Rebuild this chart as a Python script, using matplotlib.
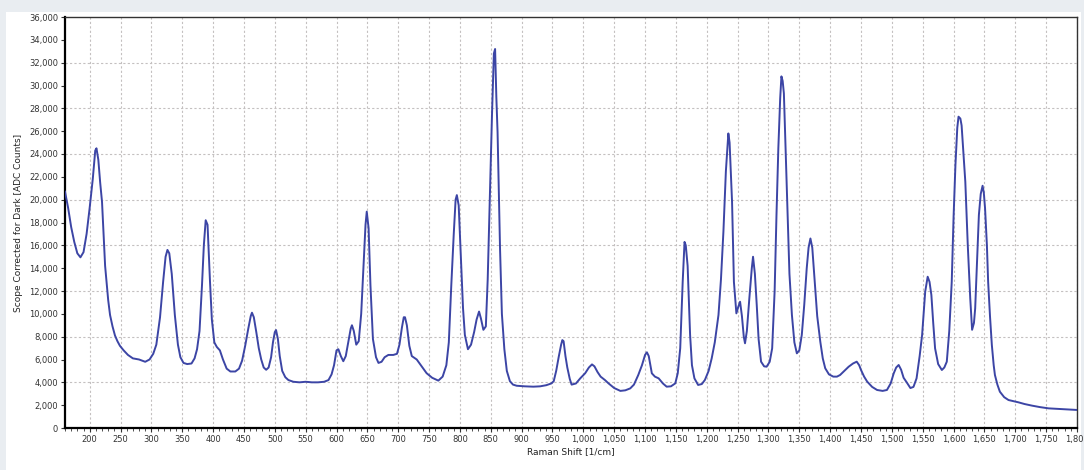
import matplotlib
matplotlib.use('Agg')
import matplotlib.pyplot as plt
from matplotlib.patches import Rectangle
from matplotlib.ticker import MultipleLocator, FuncFormatter

# spectrum
raman_shift = [
    160, 165, 170, 175, 180, 185, 190, 195, 200, 205, 209, 211, 214, 217, 220, 225, 230, 233, 237, 241,
    245, 249, 255, 262, 270, 280, 290, 297, 303, 308, 314, 319, 323, 326, 329, 333, 338, 343, 347, 352,
    358, 365, 370, 374, 378, 382, 385, 388, 391, 395, 398, 402, 406, 411, 416, 422, 428, 436, 442, 447,
    452, 457, 461, 463, 466, 470, 474, 478, 482, 486, 490, 494, 497, 500, 502, 505, 508, 512, 517, 522,
    530, 540, 550, 560, 570, 580, 587, 592, 596, 600, 603, 607, 611, 615, 619, 623, 625, 628, 632, 636,
    640, 644, 647, 649, 652, 655, 659, 664, 668, 673, 678, 684, 692, 698, 702, 706, 709, 711, 714, 718,
    722, 730, 738, 746, 755, 765, 772, 778, 782, 786, 790, 793, 795, 798, 801, 805, 808, 813, 818, 823,
    827, 831, 834, 838, 842, 845, 849, 852, 855, 857, 859, 861, 865, 868, 872, 876, 881, 886, 892, 905,
    919, 930, 940, 948, 952, 956, 960, 964, 966, 968, 971, 974, 978, 981, 988, 995, 1003, 1009, 1014, 1018,
    1023, 1028, 1035, 1041, 1050, 1060, 1068, 1076, 1082, 1089, 1095, 1100, 1103, 1106, 1111, 1116, 1122, 1129, 1135, 1142,
    1149, 1153, 1157, 1161, 1164, 1166, 1169, 1173, 1176, 1180, 1186, 1192, 1197, 1203, 1208, 1213, 1219, 1223, 1227, 1231,
    1235, 1237, 1241, 1244, 1248, 1251, 1254, 1257, 1260, 1262, 1265, 1269, 1273, 1275, 1278, 1281, 1284, 1288, 1293, 1297,
    1302, 1306, 1310, 1313, 1316, 1319, 1321, 1323, 1325, 1328, 1331, 1334, 1338, 1342, 1346, 1350, 1354, 1358, 1362, 1365,
    1368, 1371, 1375, 1379, 1384, 1388, 1392, 1398, 1405, 1411, 1416, 1423, 1430, 1437, 1443, 1447, 1450, 1455, 1460, 1468,
    1476, 1485, 1492, 1498, 1503, 1507, 1511, 1515, 1519, 1524, 1530, 1535, 1540, 1545, 1549, 1554, 1558, 1561, 1564, 1567,
    1570, 1575, 1581, 1585, 1589, 1593, 1597, 1600, 1603, 1606, 1608, 1611, 1613, 1616, 1619, 1623, 1627, 1630, 1633, 1635,
    1638, 1641, 1644, 1647, 1649, 1651, 1654, 1656, 1659, 1662, 1665, 1667, 1671, 1675, 1682, 1689, 1697, 1705, 1715, 1727,
    1740, 1754, 1767, 1781, 1790, 1800,
]
counts = [
    20700, 19300, 17600, 16300, 15300, 14950, 15400, 17000, 19300, 21800, 24300, 24500, 23500, 21500, 19800, 14200, 11200, 9900, 8900, 8100,
    7600, 7200, 6800, 6400, 6100, 6000, 5800, 6000, 6500, 7300, 9700, 12800, 15000, 15600, 15300, 13500, 9900, 7300, 6200, 5700,
    5600, 5650, 6100, 6900, 8500, 12500, 16000, 18200, 17800, 12800, 9500, 7500, 7100, 6800, 6000, 5200, 4950, 4950, 5200, 5900,
    7200, 8700, 9800, 10100, 9700, 8400, 7000, 6000, 5300, 5100, 5300, 6200, 7500, 8400, 8580, 7800, 6300, 5000, 4450, 4200,
    4050, 4000, 4050, 4000, 4000, 4050, 4200, 4700, 5500, 6800, 6900, 6300, 5850, 6300, 7500, 8700, 9000, 8500, 7300, 7600,
    10000, 14500, 17800, 18950, 17500, 12500, 7800, 6200, 5700, 5800, 6200, 6400, 6400, 6500, 7300, 8800, 9700, 9700, 9000, 7200,
    6300, 6000, 5400, 4800, 4400, 4150, 4500, 5500, 7500, 12500, 17000, 20000, 20400, 19500, 15700, 10500, 8150, 6900, 7300, 8400,
    9500, 10200, 9600, 8600, 8900, 13000, 21500, 27500, 32800, 33200, 29000, 25900, 15700, 10000, 6900, 5000, 4100, 3800, 3700, 3650,
    3620, 3650, 3750, 3900, 4100, 5000, 6200, 7300, 7700, 7600, 6300, 5300, 4300, 3800, 3900, 4350, 4800, 5300, 5570, 5400,
    4900, 4500, 4200, 3900, 3500, 3250, 3300, 3470, 3800, 4640, 5500, 6400, 6630, 6300, 4790, 4500, 4350, 3900, 3620, 3650,
    3910, 4800, 6980, 12800, 16300, 16000, 14200, 8150, 5500, 4350, 3770, 3850, 4210, 5000, 6100, 7500, 9900, 13000, 17200, 22500,
    25800, 25000, 19800, 12800, 10040, 10600, 11060, 9800, 8000, 7420, 8500, 11350, 14000, 15000, 13500, 10770, 7800, 5810, 5400, 5370,
    5800, 6980, 12000, 18660, 24500, 28880, 30800, 30400, 29300, 24000, 18660, 13500, 9900, 7500, 6540, 6800, 8150, 10800, 13990, 15800,
    16600, 15800, 12800, 9800, 7560, 6100, 5230, 4700, 4500, 4500, 4640, 5000, 5370, 5650, 5810, 5500, 5080, 4500, 4060, 3600,
    3330, 3250, 3330, 3900, 4790, 5300, 5520, 5100, 4400, 4000, 3500, 3600, 4350, 6300, 8150, 11940, 13250, 12800, 11650, 9200,
    6980, 5600, 5080, 5300, 5810, 8500, 12800, 18500, 23040, 26300, 27270, 27100, 26500, 24000, 21570, 16000, 11350, 8600, 9200, 10480,
    14500, 18660, 20500, 21220, 20600, 19240, 16000, 12800, 9800, 7270, 5500, 4640, 3800, 3180, 2700, 2450, 2350, 2250, 2100, 1960,
    1830, 1720, 1680, 1640, 1610, 1580,
]

x_ticks = list(range(200, 1801, 50))
y_ticks = list(range(0, 36001, 2000))
grid_y = list(range(4000, 36000, 4000))

fig = plt.figure(figsize=(10.84, 4.70), dpi=100, facecolor='#e9edf1')
# white panel behind the chart
fig.patches.append(Rectangle((6 / 1084, 0), 1075 / 1084, 458 / 470,
                             transform=fig.transFigure, facecolor='white', edgecolor='none', zorder=-1))

ax = fig.add_axes([65 / 1084, 42 / 470, 1012 / 1084, 411 / 470])
ax.set_zorder(2)
ax.plot(raman_shift, counts, color='#3c45a5', lw=1.4, zorder=3)

ax.set_xlim(160, 1800)
ax.set_ylim(0, 36000)

ax.set_xticks(x_ticks)
ax.set_yticks(y_ticks)
comma = FuncFormatter(lambda v, p: f'{int(v):,}')
ax.xaxis.set_major_formatter(comma)
ax.yaxis.set_major_formatter(comma)
ax.xaxis.set_minor_locator(MultipleLocator(10))
ax.tick_params(axis='both', which='major', labelsize=6, colors='#333333', length=3, width=0.8, pad=2)
ax.tick_params(axis='x', which='minor', length=2, width=0.6, color='#333333')

# dashed grid: every x tick, every other y tick
for xv in x_ticks:
    ax.axvline(xv, color='#c4c0c0', lw=0.8, ls=(0, (2, 2)), zorder=1)
for yv in grid_y:
    ax.axhline(yv, color='#c4c0c0', lw=0.8, ls=(0, (2, 2)), zorder=1)

for side in ['left', 'bottom']:
    ax.spines[side].set_linewidth(1.6)
    ax.spines[side].set_color('black')
for side in ['top', 'right']:
    ax.spines[side].set_linewidth(1.0)
    ax.spines[side].set_color('#333333')

ax.set_xlabel('Raman Shift [1/cm]', fontsize=6.5, color='#222222', labelpad=2)
ax.set_ylabel('Scope Corrected for Dark [ADC Counts]', fontsize=6.5, color='#222222', labelpad=4)

fig.savefig('out.png', dpi=100, facecolor=fig.get_facecolor())
